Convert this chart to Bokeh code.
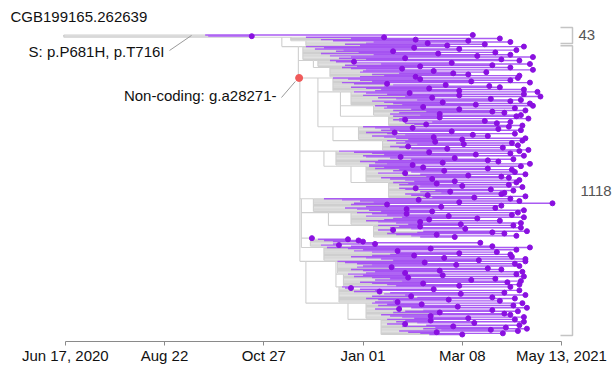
from bokeh.plotting import figure
from bokeh.models import Range1d, FixedTicker
from bokeh.embed import file_html
from bokeh.resources import INLINE
from bokeh.core.properties import value

# ---------------- data (dates are days after 2020-06-17) ----------------
title_text = "CGB199165.262639"
tick_days = [0, 66, 132, 198, 264, 330]
tick_labels = ["Jun 17, 2020", "Aug 22", "Oct 27", "Jan 01", "Mar 08", "May 13, 2021"]

# internal nodes of the tree
node_name   = ["R", "A", "T", "B", "Bb", "B2", "C", "Cb", "Cc", "D", "D2", "E", "E2", "F", "G", "H"]
node_parent = [None, "R", "A", "A", "B", "B", "B2", "C", "C", "B2", "D", "B2", "E", "B2", "F", "F"]
node_date   = [-1, 144, 150, 155, 165, 156, 168, 183, 178, 172, 190, 157, 175, 160, 180, 188]

# leaf clusters (top to bottom): parent node, cluster node date, tip dates, date the purple part starts
cluster_name   = ["r0", "T0", "T1", "Ba", "Bb0", "Bb1", "Ca", "Cb1", "Cb2", "Cb3", "Cc1", "Cc2",
                  "D1", "D2a", "D2b", "E1", "E2a", "E2b", "E3", "E4", "G1", "G2", "G3", "H1", "H2"]
cluster_parent = ["R", "T", "T", "B", "Bb", "Bb", "C", "Cb", "Cb", "Cb", "Cc", "Cc",
                  "D", "D2", "D2", "E", "E2", "E2", "E", "E", "G", "G", "G", "H", "H"]
cluster_date   = [-1, 150, 160, 158, 168, 176, 178, 190, 205, 215, 195, 211,
                  180, 200, 215, 165, 190, 205, 163, 172, 181, 185, 182, 200, 210]
cluster_tips = [
    [271, 124],
    [212, 289, 233],
    [268, 296, 241, 279, 254],
    [305, 232, 262, 300, 218, 286, 248, 296, 274, 311, 226, 290],
    [302, 192, 257, 309, 284, 236],
    [296, 224, 311, 245, 280, 258, 268, 302, 233],
    [301, 236, 296, 270, 309, 214, 253, 282, 289, 242, 305, 262],
    [314, 229, 305, 262, 316, 244, 283, 303, 296, 251, 309, 273],
    [311, 238, 299, 262, 306, 284, 292, 249, 303],
    [300, 249, 308, 226, 279, 296, 287, 240, 304],
    [295, 231, 288, 303, 257, 219, 299, 271, 281, 245, 306, 264],
    [304, 246, 297, 265, 301, 228, 291, 254, 308],
    [302, 242, 296, 273, 305, 223, 259, 298, 281, 288, 251, 309, 231],
    [303, 238, 281, 297, 252, 299, 226, 306, 268, 290, 295, 244, 302, 259],
    [300, 247, 295, 264, 304, 233, 283, 298, 256, 292, 290, 241, 306, 272],
    [296, 235, 302, 262, 324, 214, 290, 250, 286, 227, 305, 244],
    [301, 227, 297, 255, 305, 274, 242, 289, 236, 303, 263],
    [298, 236, 303, 266, 218, 307, 284, 292, 247, 300, 259],
    [164, 188, 195, 198, 276, 206, 182, 284],
    [309, 243, 300, 221, 287, 262, 296, 232, 297, 252, 306, 275],
    [306, 239, 299, 260, 302, 217, 281, 290, 249, 304, 226],
    [300, 251, 305, 228, 286, 270, 303, 294, 238, 302, 262],
    [296, 190, 245, 302, 209, 292, 263, 306, 230, 284, 299, 255, 289, 221],
    [304, 237, 298, 261, 307, 222, 284, 301, 249, 292, 296, 243, 305, 268],
    [299, 243, 305, 272, 226, 302, 258, 293, 307, 283, 301, 247, 291, 264],
]
cluster_purple = [
    [93, 95],
    [160, 190, 170],
    [178, 205, 200, 186, 196],
    [160, 172, 166, 185, 180, 195, 170, 205, 176, 190, 182, 200],
    [176, 180, 192, 210, 186, 194],
    [184, 190, 200, 198, 196, 222, 204, 212, 196],
    [178, 188, 196, 204, 184, 192, 218, 212, 190, 200, 210, 206],
    [192, 200, 214, 198, 226, 208, 220, 234, 204, 212, 218, 224],
    [206, 214, 212, 230, 218, 240, 222, 216, 236],
    [218, 224, 222, 218, 222, 244, 226, 232, 240],
    [198, 206, 216, 210, 222, 200, 214, 226, 204, 212, 220, 228],
    [214, 226, 220, 234, 228, 216, 222, 230, 240],
    [182, 192, 204, 212, 198, 200, 216, 230, 208, 196, 206, 214, 202],
    [202, 212, 206, 222, 218, 230, 208, 236, 226, 240, 210, 216, 226, 232],
    [218, 228, 222, 236, 232, 222, 226, 246, 236, 250, 226, 230, 238, 244],
    [172, 184, 196, 205, 192, 190, 216, 200, 186, 194, 202, 210],
    [194, 204, 214, 200, 224, 218, 212, 200, 208, 220, 228],
    [208, 222, 216, 230, 208, 238, 234, 214, 220, 230, 236],
    [163, 168, 172, 178, 200, 178, 170, 190],
    [174, 188, 198, 192, 204, 220, 216, 204, 190, 200, 210, 218],
    [181, 186, 194, 204, 198, 194, 218, 190, 198, 206, 200],
    [188, 198, 192, 204, 216, 206, 224, 196, 204, 214, 220],
    [184, 186, 196, 206, 192, 216, 212, 226, 204, 234, 200, 208, 218, 206],
    [204, 214, 208, 222, 230, 206, 238, 226, 218, 244, 210, 216, 224, 232],
    [214, 226, 220, 234, 214, 240, 224, 246, 238, 250, 222, 228, 236, 242],
]

# mutations drawn on branches
mutation_text   = ["S: p.P681H, p.T716I", "Non-coding: g.a28271-"]
mutation_branch = ["r0", "B2"]
mutation_day    = [81, 155.5]

# clades marked by brackets on the right
clade_first_cluster = ["r0", "Ba"]
clade_last_cluster  = ["T1", "H2"]
clade_count_text    = ["43", "1118"]

# ---------------- layout ----------------
first, last = {}, {}
leaf_y, leaf_x0, leaf_p, leaf_tip = [], [], [], []
i = 0
for name, d, tips, purp in zip(cluster_name, cluster_date, cluster_tips, cluster_purple):
    first[name] = i
    for t, pp in zip(tips, purp):
        leaf_y.append(i); leaf_x0.append(d); leaf_p.append(pp); leaf_tip.append(t)
        i += 1
    last[name] = i - 1
N = i

date = dict(zip(node_name, node_date)); date.update(zip(cluster_name, cluster_date))
parent = dict(zip(node_name, node_parent)); parent.update(zip(cluster_name, cluster_parent))
children = {n: [] for n in node_name}
for n in node_name + cluster_name:
    if parent[n] is not None:
        children[parent[n]].append(n)

ypos, span = {}, {}
def place(n):
    if n in first:
        ypos[n] = first[n]
        span[n] = (first[n], last[n])
        return ypos[n]
    ys = [place(c) for c in children[n]]
    ypos[n] = min(ys)
    span[n] = (min(ys), max(ys))
    return ypos[n]
root = [n for n in node_name if parent[n] is None][0]
place(root)

gx0, gy0, gx1, gy1 = [], [], [], []
for n in node_name + cluster_name:
    if parent[n] is not None:
        gx0.append(date[parent[n]]); gx1.append(date[n]); gy0.append(ypos[n]); gy1.append(ypos[n])
    gx0.append(date[n]); gx1.append(date[n]); gy0.append(span[n][0]); gy1.append(span[n][1])
for x0, p_, y in zip(leaf_x0, leaf_p, leaf_y):
    gx0.append(x0); gx1.append(p_); gy0.append(y); gy1.append(y)

# pixel geometry (figure pixels)
W, H = 616, 367
px_per_day = 496.2 / 330.0
x_of_day0 = 64.8
top_leaf_px, bottom_leaf_px = 34.5, 334.0
px_per_leaf = (bottom_leaf_px - top_leaf_px) / (N - 1)
frame_bottom_px = 341.0
def yi(py):
    return (py - top_leaf_px) / px_per_leaf
def xd(px):
    return (px - x_of_day0) / px_per_day

p = figure(width=W, height=H, output_backend="svg", toolbar_location=None,
           x_range=Range1d(xd(0), xd(W)),
           y_range=Range1d(yi(frame_bottom_px), yi(0)),
           y_axis_location=None, min_border_left=0, min_border_right=0,
           min_border_top=0, min_border_bottom=H - int(frame_bottom_px), outline_line_color=None,
           background_fill_color="white", border_fill_color="white")
p.grid.visible = False

FONT = value("Liberation Sans")

p.segment(x0=gx0, y0=gy0, x1=gx1, y1=gy1, line_color="#cfcfcf", line_width=1.1)
p.segment(x0=leaf_p, y0=leaf_y, x1=leaf_tip, y1=leaf_y, line_color="#9a3df0",
          line_alpha=0.85, line_width=1.4)
p.scatter(x=leaf_tip, y=leaf_y, size=5, fill_color="#8a10e0", line_color="#8a10e0")

# mutation annotations
m_y = [ypos[b] for b in mutation_branch]
p.segment(x0=[xd(169), xd(281)], y0=[yi(50), yi(97)],
          x1=[mutation_day[0] + 3, mutation_day[1] - 2.5],
          y1=[m_y[0] + 0.4 / px_per_leaf, m_y[1] + 3.5 / px_per_leaf],
          line_color="#9a9a9a", line_width=1)
p.scatter(x=[mutation_day[1]], y=[m_y[1]], size=7, fill_color="#f05a5a", line_color="#f05a5a")
p.text(x=[xd(164), xd(276)], y=[yi(51), yi(95)], text=mutation_text,
       text_font=FONT, text_font_size="15px", text_align="right", text_baseline="middle",
       text_color="#111111")

# title
p.text(x=[xd(10)], y=[yi(16)], text=[title_text], text_font=FONT, text_font_size="15px",
       text_align="left", text_baseline="middle", text_color="#111111")

# clade brackets
bx_in, bx_out = xd(560), xd(572)
b_top = [first[clade_first_cluster[0]] - 7.5 / px_per_leaf, first[clade_first_cluster[1]] - 0.8 / px_per_leaf]
b_bot = [last[clade_last_cluster[0]] - 2.0 / px_per_leaf, last[clade_last_cluster[1]] + 1.0 / px_per_leaf]
bxs, bys = [], []
for t, b in zip(b_top, b_bot):
    bxs.append([bx_in, bx_out, bx_out, bx_in]); bys.append([t, t, b, b])
p.multi_line(xs=bxs, ys=bys, line_color="#c4c4c4", line_width=1.5)
p.text(x=[xd(578), xd(580)], y=[(t + b) / 2 for t, b in zip(b_top, b_bot)], text=clade_count_text,
       text_font=FONT, text_font_size="15px", text_align="left", text_baseline="middle",
       text_color="#555555")

# time axis
ax = p.xaxis[0]
ax.ticker = FixedTicker(ticks=tick_days)
ax.major_label_overrides = {d: l for d, l in zip(tick_days, tick_labels)}
ax.bounds = (tick_days[0], tick_days[-1])
ax.axis_line_color = "#8a8a8a"
ax.major_tick_line_color = "#8a8a8a"
ax.major_tick_out = 4
ax.major_tick_in = 0
ax.minor_tick_line_color = None
ax.major_label_standoff = 1
ax.major_label_text_font = "Liberation Sans"
ax.major_label_text_font_size = "15px"
ax.major_label_text_color = "#111111"

open("out.html", "w").write(file_html(p, INLINE))
